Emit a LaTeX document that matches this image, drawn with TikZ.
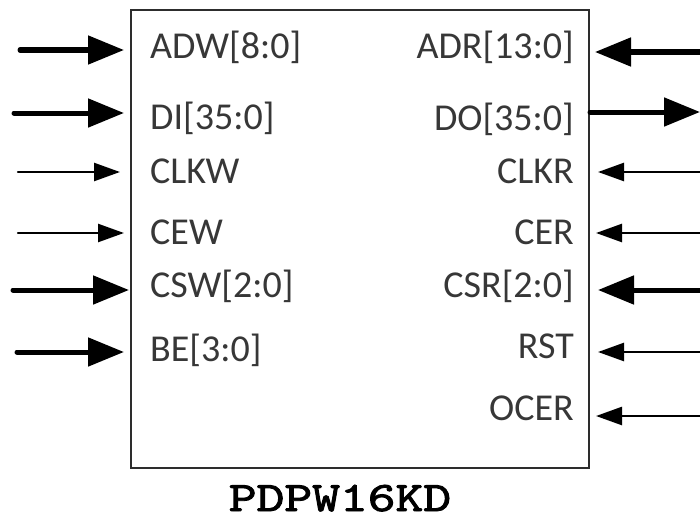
\documentclass[tikz,border=0pt]{standalone}
\usepackage{fontspec}
\setmainfont{Carlito}
\newfontfamily\namefont[FakeBold=2]{lmmono10-regular.otf}
\usetikzlibrary{arrows.meta, positioning, calc}
\definecolor{PinText}{RGB}{55,55,55}
\definecolor{BoxEdge}{RGB}{45,45,45}

\begin{document}
\begin{tikzpicture}[x=1pt,y=-1pt,
	ramblock/.style={draw=BoxEdge,line width=2pt,minimum width=458pt,minimum height=458pt,inner sep=0pt},
	pin/.style={inner sep=0pt,text=PinText,font=\fontsize{38}{40}\selectfont},
	bus/.style={line width=5pt,line cap=round,-{Triangle[length=36pt,width=28pt]}},
	wire/.style={line width=2.5pt,line cap=round,-{Triangle[length=26pt,width=18pt]}},
	partname/.style={inner sep=0pt,font=\namefont\fontsize{42}{44}\selectfont}]
\useasboundingbox (0,0) rectangle (700,519);
\node[ramblock] (ram) at (360,239) {};
\node[partname,anchor=base] (name) at (340,511) {\scalebox{1.26}[1]{PDPW16KD}};
% write side
\node[pin,anchor=base west] (adw) at (150,58) {ADW[8:0]};
\node[pin,anchor=base west] (di) at (150,129) {DI[35:0]};
\node[pin,anchor=base west] (clkw) at (150,183) {CLKW};
\node[pin,anchor=base west] (cew) at (150,244) {CEW};
\node[pin,anchor=base west] (csw) at (150,297) {CSW[2:0]};
\node[pin,anchor=base west] (be) at (150,361) {BE[3:0]};
% read side
\node[pin,anchor=base east] (adr) at (574,59) {ADR[13:0]};
\node[pin,anchor=base east] (do) at (574,130) {DO[35:0]};
\node[pin,anchor=base east] (clkr) at (574,183) {CLKR};
\node[pin,anchor=base east] (cer) at (574,244) {CER};
\node[pin,anchor=base east] (csr) at (574,297) {CSR[2:0]};
\node[pin,anchor=base east] (rst) at (574,358) {RST};
\node[pin,anchor=base east] (ocer) at (574,420) {OCER};
\coordinate (adw in) at (20,50);
\coordinate (di in) at (14,113);
\coordinate (clkw in) at (18,172);
\coordinate (cew in) at (18,233);
\coordinate (csw in) at (13,290);
\coordinate (be in) at (17,352);
\coordinate (adr in) at (700,52);
\coordinate (do out) at (700,112);
\coordinate (clkr in) at (700,172);
\coordinate (cer in) at (700,233);
\coordinate (csr in) at (700,290);
\coordinate (rst in) at (700,352);
\coordinate (ocer in) at (700,416);
\draw[bus,shorten >=6pt] (adw in) -- (adw in -| ram.west);
\draw[bus,shorten >=6pt] (di in) -- (di in -| ram.west);
\draw[wire,shorten >=10pt] (clkw in) -- (clkw in -| ram.west);
\draw[wire,shorten >=6pt] (cew in) -- (cew in -| ram.west);
\draw[bus,shorten >=1pt] (csw in) -- (csw in -| ram.west);
\draw[bus,shorten >=6pt] (be in) -- (be in -| ram.west);
\draw[bus,shorten >=5pt] (adr in) -- (adr in -| ram.east);
\draw[bus] (do out -| ram.east) -- (do out);
\draw[wire,shorten >=8pt] (clkr in) -- (clkr in -| ram.east);
\draw[wire,shorten >=6pt] (cer in) -- (cer in -| ram.east);
\draw[bus,shorten >=8pt] (csr in) -- (csr in -| ram.east);
\draw[wire,shorten >=8pt] (rst in) -- (rst in -| ram.east);
\draw[wire,shorten >=6pt] (ocer in) -- (ocer in -| ram.east);
\end{tikzpicture}
\end{document}
